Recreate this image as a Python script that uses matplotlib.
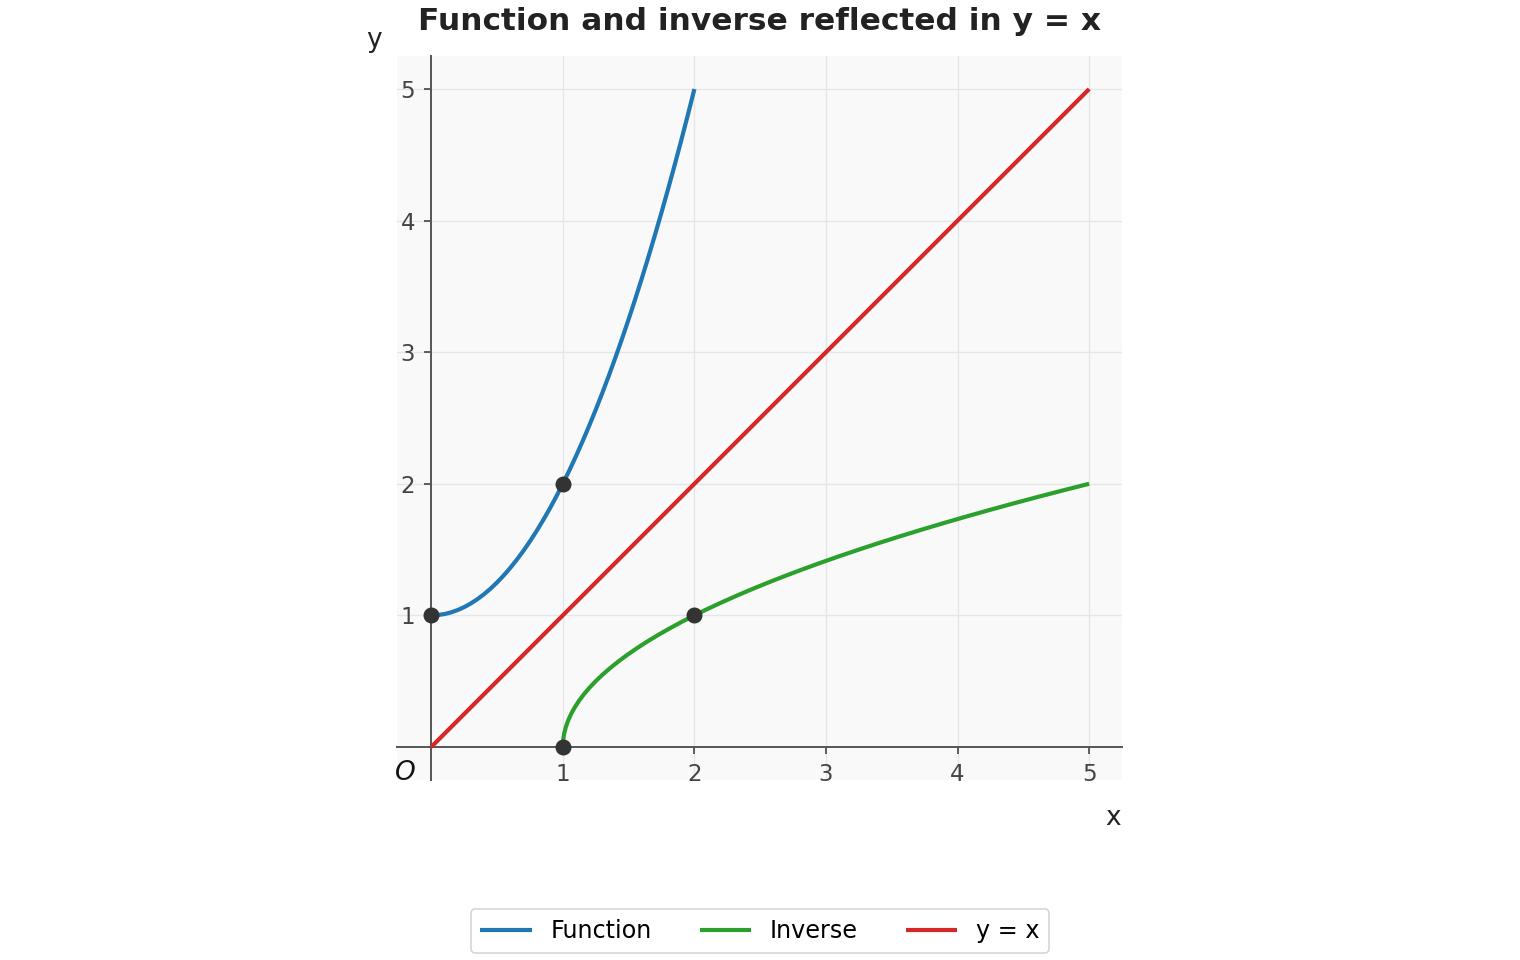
import matplotlib
matplotlib.use("Agg")
import matplotlib.pyplot as plt

# points (y = x^2 + 1 shape)
func_x = [0.0, 0.05, 0.1, 0.15, 0.2, 0.25, 0.3, 0.35, 0.4, 0.45, 0.5,
          0.55, 0.6, 0.65, 0.7, 0.75, 0.8, 0.85, 0.9, 0.95, 1.0,
          1.05, 1.1, 1.15, 1.2, 1.25, 1.3, 1.35, 1.4, 1.45, 1.5,
          1.55, 1.6, 1.65, 1.7, 1.75, 1.8, 1.85, 1.9, 1.95, 2.0]
func_y = [1.0, 1.0025, 1.01, 1.0225, 1.04, 1.0625, 1.09, 1.1225, 1.16, 1.2025, 1.25,
          1.3025, 1.36, 1.4225, 1.49, 1.5625, 1.64, 1.7225, 1.81, 1.9025, 2.0,
          2.1025, 2.21, 2.3225, 2.44, 2.5625, 2.69, 2.8225, 2.96, 3.1025, 3.25,
          3.4025, 3.56, 3.7225, 3.89, 4.0625, 4.24, 4.4225, 4.61, 4.8025, 5.0]

# inverse curve, mirrored points
inv_x = [1.0, 1.0025, 1.01, 1.0225, 1.04, 1.0625, 1.09, 1.1225, 1.16, 1.2025, 1.25,
         1.3025, 1.36, 1.4225, 1.49, 1.5625, 1.64, 1.7225, 1.81, 1.9025, 2.0,
         2.1025, 2.21, 2.3225, 2.44, 2.5625, 2.69, 2.8225, 2.96, 3.1025, 3.25,
         3.4025, 3.56, 3.7225, 3.89, 4.0625, 4.24, 4.4225, 4.61, 4.8025, 5.0]
inv_y = [0.0, 0.05, 0.1, 0.15, 0.2, 0.25, 0.3, 0.35, 0.4, 0.45, 0.5,
         0.55, 0.6, 0.65, 0.7, 0.75, 0.8, 0.85, 0.9, 0.95, 1.0,
         1.05, 1.1, 1.15, 1.2, 1.25, 1.3, 1.35, 1.4, 1.45, 1.5,
         1.55, 1.6, 1.65, 1.7, 1.75, 1.8, 1.85, 1.9, 1.95, 2.0]

line_x = [0, 5]
line_y = [0, 5]

dots_x = [0, 1, 2, 1]
dots_y = [1, 2, 1, 0]

ticks = [1, 2, 3, 4, 5]

fig = plt.figure(figsize=(15.2, 9.6), dpi=100)
ax = fig.add_axes([0.2612, 0.1875, 0.477, 0.7542])
ax.set_facecolor("#f9f9f9")

kw = dict(lw=3.0, zorder=3, solid_joinstyle="round", solid_capstyle="butt")
ax.plot(func_x, func_y, color="#1f77b4", label="Function", **kw)
ax.plot(inv_x, inv_y, color="#2ca02c", label="Inverse", **kw)
ax.plot(line_x, line_y, color="#d62728", label="y = x", **kw)
ax.plot(dots_x, dots_y, "o", color="#333333", ms=10.5, zorder=4, clip_on=False)

ax.set_xlim(-0.26, 5.25)
ax.set_ylim(-0.25, 5.25)
ax.set_aspect("equal")

ax.spines["left"].set_position(("data", 0))
ax.spines["bottom"].set_position(("data", 0))
ax.spines["right"].set_visible(False)
ax.spines["top"].set_visible(False)
for s in ["left", "bottom"]:
    ax.spines[s].set_color("#555555")
    ax.spines[s].set_linewidth(1.4)

ax.set_xticks(ticks)
ax.set_yticks(ticks)
ax.tick_params(colors="#444444", labelsize=16.5, length=5, width=1.2,
               direction="out", labelcolor="#444444", pad=6.5)
ax.grid(True, color="#e6e6e6", lw=1, zorder=0)
ax.set_axisbelow(True)

ax.set_title("Function and inverse reflected in y = x", fontsize=22.5,
             fontweight="bold", color="#222222", pad=19)
fig.text(374 / 1520, 1 - 40 / 960, "y", fontsize=19, color="#222222",
         ha="center", va="center")
fig.text(1113 / 1520, 1 - 818 / 960, "x", fontsize=19, color="#222222",
         ha="center", va="center")
fig.text(405 / 1520, 1 - 773 / 960, "O", fontsize=19, style="italic",
         color="#111111", ha="center", va="center")

leg = fig.legend(loc="center", bbox_to_anchor=(0.5, 1 - 931 / 960), ncol=3,
                 fontsize=17.2, frameon=True, handlelength=2.15,
                 columnspacing=2.0, fancybox=True)
leg.get_frame().set_edgecolor("#cccccc")
leg.get_frame().set_linewidth(1.2)

fig.savefig("out.png", dpi=100)
